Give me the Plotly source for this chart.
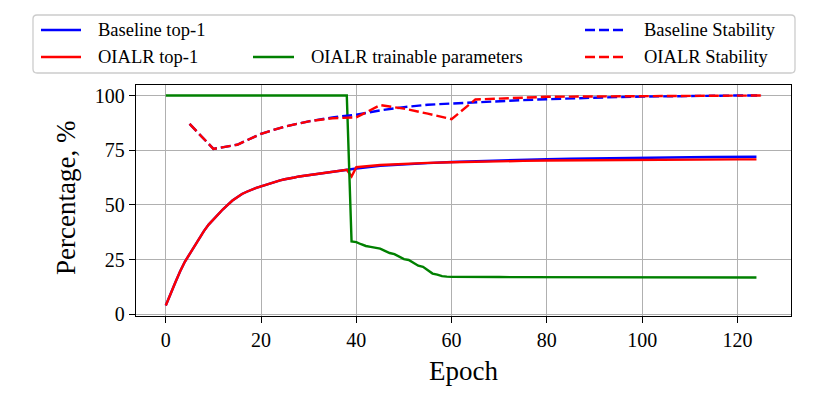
import plotly.graph_objects as go

# ---------------- data ----------------
top1_epochs = list(range(0, 41)) + [45, 50, 55, 60, 65, 70, 75, 80, 85, 90, 95, 100, 105, 110, 115, 120, 124]
baseline_top1 = [4.0, 9.5, 14.5, 19.5, 24.0, 27.5, 31.0, 35.0, 38.0, 41.0,
                 43.5, 46.0, 48.0, 50.0, 52.0, 53.5, 55.0, 56.0, 57.0, 57.8,
                 58.5, 59.2, 60.0, 60.5, 61.2, 61.7, 62.0, 62.5, 63.0, 63.3,
                 63.7, 64.0, 64.4, 64.7, 65.0, 65.2, 65.5, 65.7, 66.0, 66.3,
                 66.6,
                 67.9, 68.6, 69.1, 69.6, 70.0, 70.3, 70.6, 70.9, 71.1, 71.3,
                 71.4, 71.6, 71.7, 71.8, 71.9, 71.9, 72.0]
oialr_top1 = [4.0, 9.5, 14.5, 19.5, 24.0, 27.5, 31.0, 35.0, 38.0, 41.0,
              43.5, 46.0, 48.0, 50.0, 52.0, 53.5, 55.0, 56.0, 57.0, 57.8,
              58.5, 59.2, 60.0, 60.5, 61.2, 61.7, 62.0, 62.5, 63.0, 63.3,
              63.7, 64.0, 64.4, 64.7, 65.0, 65.2, 65.5, 65.7, 66.0, 63.0,
              67.2,
              68.2, 68.8, 69.2, 69.5, 69.8, 70.0, 70.1, 70.3, 70.4, 70.5,
              70.6, 70.6, 70.7, 70.7, 70.8, 70.8, 70.8]

param_epochs = [0, 38] + list(range(39, 61)) + [70, 80, 90, 100, 110, 120, 124]
oialr_params = [100.0, 100.0,
                33.3, 33.0, 32.0, 31.2, 30.8, 30.5, 30.0, 29.0, 28.0, 27.5,
                26.5, 25.2, 24.8, 23.5, 22.2, 21.7, 20.0, 18.6, 18.1, 17.4,
                17.2, 17.1,
                17.0, 16.9, 16.8, 16.8, 16.8, 16.8, 16.8]

stab_epochs = list(range(5, 126, 5))
baseline_stab = [87.0, 75.6, 77.5, 82.5, 85.8, 88.2, 90.0, 91.2, 93.2, 94.7,
                 95.8, 96.4, 97.0, 97.5, 97.9, 98.3, 98.7, 99.0, 99.3, 99.5,
                 99.7, 99.8, 99.9, 100.0, 100.0]
oialr_stab = [87.0, 75.6, 77.5, 82.5, 85.8, 88.2, 89.6, 90.0, 95.6, 94.0,
              91.7, 89.2, 98.2, 98.6, 99.1, 99.4, 99.5, 99.6, 99.7, 99.8,
              99.8, 99.9, 100.0, 100.0, 100.0]

x_ticks = [0, 20, 40, 60, 80, 100, 120]
y_ticks = [0, 25, 50, 75, 100]

legend_names = ["Baseline top-1", "OIALR top-1", "OIALR trainable parameters",
                "Baseline Stability", "OIALR Stability"]

# ---------------- style ----------------
FONT = "Liberation Serif"
W, H = 830, 415
L, R, T, B = 136, 791, 85, 316
BLUE, RED, GREEN = "#0000ff", "#ff0000", "#008000"
LW = 2.4
DASH = "10px,4px"


def px(x):
    return (x - L) / (R - L)


def py(y):
    return (B - y) / (B - T)


fig = go.Figure()
fig.add_trace(go.Scatter(x=top1_epochs, y=baseline_top1, mode="lines",
                         line=dict(color=BLUE, width=LW), name=legend_names[0]))
fig.add_trace(go.Scatter(x=top1_epochs, y=oialr_top1, mode="lines",
                         line=dict(color=RED, width=LW), name=legend_names[1]))
fig.add_trace(go.Scatter(x=param_epochs, y=oialr_params, mode="lines",
                         line=dict(color=GREEN, width=LW), name=legend_names[2]))
fig.add_trace(go.Scatter(x=stab_epochs, y=baseline_stab, mode="lines",
                         line=dict(color=BLUE, width=LW, dash=DASH), name=legend_names[3]))
fig.add_trace(go.Scatter(x=stab_epochs, y=oialr_stab, mode="lines",
                         line=dict(color=RED, width=LW, dash=DASH), name=legend_names[4]))

# ---------------- custom legend (3 columns, 2 rows) ----------------
bx0, bx1, by0, by1, rad = 33, 795, 15, 73, 4
path = (f"M {px(bx0 + rad)},{py(by0)} L {px(bx1 - rad)},{py(by0)} "
        f"Q {px(bx1)},{py(by0)} {px(bx1)},{py(by0 + rad)} "
        f"L {px(bx1)},{py(by1 - rad)} Q {px(bx1)},{py(by1)} {px(bx1 - rad)},{py(by1)} "
        f"L {px(bx0 + rad)},{py(by1)} Q {px(bx0)},{py(by1)} {px(bx0)},{py(by1 - rad)} "
        f"L {px(bx0)},{py(by0 + rad)} Q {px(bx0)},{py(by0)} {px(bx0 + rad)},{py(by0)} Z")
shapes = [dict(type="path", xref="paper", yref="paper", path=path,
               line=dict(color="#cccccc", width=1.3), fillcolor="white", layer="above")]
annotations = []
rows = [30, 57]
entries = [  # (line x0, line x1, text x, row, color, dash, name)
    (41, 81, 96, rows[0], BLUE, "solid", legend_names[0]),
    (41, 81, 96, rows[1], RED, "solid", legend_names[1]),
    (253, 294, 309, rows[1], GREEN, "solid", legend_names[2]),
    (585, 625, 642, rows[0], BLUE, DASH, legend_names[3]),
    (585, 625, 642, rows[1], RED, DASH, legend_names[4]),
]
for x0, x1, tx, ry, col, dsh, name in entries:
    shapes.append(dict(type="line", xref="paper", yref="paper",
                       x0=px(x0), x1=px(x1), y0=py(ry), y1=py(ry),
                       line=dict(color=col, width=LW, dash=dsh), layer="above"))
    annotations.append(dict(xref="paper", yref="paper", x=px(tx), y=py(ry),
                            xanchor="left", yanchor="middle", showarrow=False,
                            text=name, font=dict(family=FONT, size=18.5, color="black")))

# axis titles
annotations.append(dict(xref="paper", yref="paper", x=px(463), y=py(371),
                        xanchor="center", yanchor="middle", showarrow=False,
                        text="Epoch", font=dict(family=FONT, size=27, color="black")))
annotations.append(dict(xref="paper", yref="paper", x=px(66), y=py(198),
                        xanchor="center", yanchor="middle", showarrow=False, textangle=-90,
                        text="Percentage, %", font=dict(family=FONT, size=27, color="black")))

axis_common = dict(showline=True, linecolor="black", linewidth=1.3, mirror=True,
                   ticks="outside", ticklen=6, tickwidth=1.3, tickcolor="black",
                   showgrid=True, gridcolor="#b0b0b0", gridwidth=1.2, zeroline=False,
                   tickfont=dict(family=FONT, size=20, color="black"))

fig.update_layout(
    width=W, height=H,
    margin=dict(l=L, r=W - R, t=T, b=H - B, pad=0),
    paper_bgcolor="white", plot_bgcolor="white",
    showlegend=False,
    shapes=shapes, annotations=annotations,
    xaxis=dict(range=[-6.25, 131.25], tickmode="array", tickvals=x_ticks,
               ticktext=[str(v) for v in x_ticks], **axis_common),
    yaxis=dict(range=[-0.8, 104.8], tickmode="array", tickvals=y_ticks,
               ticktext=[str(v) for v in y_ticks], **axis_common),
)

fig.write_html("out.html", config={"displayModeBar": False},
               post_script="document.body.style.margin='0';document.body.style.overflow='hidden';")
